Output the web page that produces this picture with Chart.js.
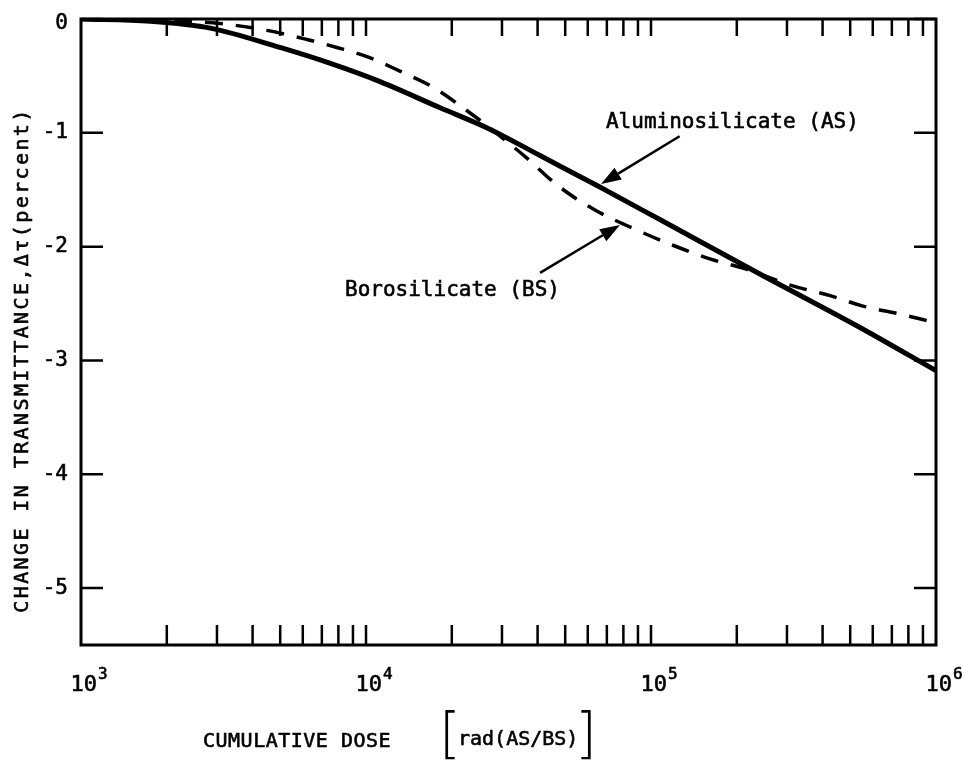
<!DOCTYPE html>
<html>
<head>
<meta charset="utf-8">
<script src="https://cdn.jsdelivr.net/npm/chart.js@4.4.1/dist/chart.umd.min.js"></script>
<style>
  html, body { margin:0; padding:0; background:#fff; }
  #wrap { width:962px; height:762px; position:relative; }
</style>
</head>
<body>
<div id="wrap"><canvas id="c" width="962" height="762"></canvas></div>
<script>
// ---- data ----
const asDose  = [1000, 1750, 2840, 4990, 7500, 11200, 18200, 27300, 40800, 65400, 107000, 241000, 541000, 1000000];
const asDelta = [0, -0.02, -0.08, -0.25, -0.39, -0.55, -0.78, -0.97, -1.20, -1.47, -1.76, -2.24, -2.71, -3.09];

const bsDose  = [1000, 1750, 3070, 4490, 6200, 7900, 10300, 13200, 17200, 21900, 27300, 36600, 46900, 62700, 86600, 120000, 162000, 217000, 310000, 425000, 550000, 740000, 1000000];
const bsDelta = [0, -0.01, -0.04, -0.10, -0.18, -0.25, -0.34, -0.46, -0.60, -0.78, -0.96, -1.22, -1.46, -1.67, -1.84, -1.99, -2.11, -2.20, -2.34, -2.43, -2.52, -2.59, -2.67];

const xDecades = [1000, 10000, 100000, 1000000];
const xTickBase = ['10', '10', '10', '10'];
const xTickExp  = ['3', '4', '5', '6'];
const xMinorMultipliers = [2, 3, 4, 5, 6, 7, 8, 9, 10];
const yTickValues = [0, -1, -2, -3, -4, -5];
const yTickLabels = ['0', '-1', '-2', '-3', '-4', '-5'];

const annotationTexts   = ['Aluminosilicate (AS)', 'Borosilicate (BS)'];
const annotationAnchors = [[69500, -0.956], [8440, -2.43]];
const arrowTails        = [[126000, -1.03], [40800, -2.23]];
const arrowHeads        = [[66800, -1.45], [77800, -1.81]];

const yTitle = 'CHANGE IN TRANSMITTANCE,\u0394\u03C4(percent)';
const xTitle = 'CUMULATIVE DOSE';
const xUnit  = 'rad(AS/BS)';

// ---- build points ----
const asPoints = asDose.map((d, i) => ({ x: d, y: asDelta[i] }));
const bsPoints = bsDose.map((d, i) => ({ x: d, y: bsDelta[i] }));

const MONO = '"DejaVu Sans Mono", "Liberation Mono", monospace';

function boldText(ctx, t, x, y) {
  ctx.fillText(t, x, y);
  ctx.lineWidth = 0.6;
  ctx.strokeText(t, x, y);
}

const decorPlugin = {
  id: 'decor',
  afterDatasetsDraw(chart) {
    const { ctx, chartArea: a, scales: { x, y } } = chart;
    ctx.save();
    ctx.strokeStyle = '#000';
    ctx.fillStyle = '#000';
    // frame
    ctx.lineWidth = 3;
    ctx.strokeRect(a.left, a.top, a.right - a.left, a.bottom - a.top);
    // x ticks, bottom & top, inward
    ctx.lineWidth = 2.5;
    ctx.beginPath();
    xDecades.slice(0, -1).forEach(d => {
      xMinorMultipliers.forEach(m => {
        const px = x.getPixelForValue(d * m);
        if (px >= a.right - 1) return;
        ctx.moveTo(px, a.bottom); ctx.lineTo(px, a.bottom - 20);
        ctx.moveTo(px, a.top); ctx.lineTo(px, a.top + 17);
      });
    });
    // y ticks, left & right, inward
    yTickValues.forEach(v => {
      const py = y.getPixelForValue(v);
      ctx.moveTo(a.left, py); ctx.lineTo(a.left + 22, py);
      ctx.moveTo(a.right, py); ctx.lineTo(a.right - 22, py);
    });
    ctx.stroke();

    // y tick labels
    ctx.font = '21px ' + MONO;
    ctx.textAlign = 'right';
    ctx.textBaseline = 'middle';
    yTickValues.forEach((v, i) => {
      const py = y.getPixelForValue(v);
      boldText(ctx, yTickLabels[i], a.left - 13, py + (i === 0 ? 5 : 0));
    });
    // x tick labels with superscripts
    ctx.textBaseline = 'alphabetic';
    xDecades.forEach((v, i) => {
      const px = x.getPixelForValue(v);
      ctx.font = '22px ' + MONO;
      ctx.textAlign = 'right';
      boldText(ctx, xTickBase[i], px + 16, a.bottom + 46);
      ctx.font = '16px ' + MONO;
      ctx.textAlign = 'left';
      boldText(ctx, xTickExp[i], px + 17, a.bottom + 34);
    });

    // annotations
    ctx.font = '21px ' + MONO;
    ctx.textAlign = 'left';
    annotationTexts.forEach((t, i) => {
      const tx = x.getPixelForValue(annotationAnchors[i][0]);
      const ty = y.getPixelForValue(annotationAnchors[i][1]);
      boldText(ctx, t, tx, ty);
      const x0 = x.getPixelForValue(arrowTails[i][0]);
      const y0 = y.getPixelForValue(arrowTails[i][1]);
      const x1 = x.getPixelForValue(arrowHeads[i][0]);
      const y1 = y.getPixelForValue(arrowHeads[i][1]);
      const ang = Math.atan2(y1 - y0, x1 - x0);
      const hl = 20, hw = 7;
      const bx = x1 - hl * Math.cos(ang), by = y1 - hl * Math.sin(ang);
      ctx.lineWidth = 2.5;
      ctx.beginPath(); ctx.moveTo(x0, y0); ctx.lineTo(bx, by); ctx.stroke();
      ctx.beginPath();
      ctx.moveTo(x1, y1);
      ctx.lineTo(bx + hw * Math.sin(ang), by - hw * Math.cos(ang));
      ctx.lineTo(bx - hw * Math.sin(ang), by + hw * Math.cos(ang));
      ctx.closePath(); ctx.fill();
    });

    // y title (rotated)
    ctx.save();
    ctx.translate(28, 360);
    ctx.rotate(-Math.PI / 2);
    ctx.font = '20px ' + MONO;
    ctx.letterSpacing = '2.4px';
    ctx.textAlign = 'center';
    boldText(ctx, yTitle, 0, 0);
    ctx.restore();

    // x title
    ctx.font = '20px ' + MONO;
    ctx.letterSpacing = '0.5px';
    ctx.textAlign = 'left';
    boldText(ctx, xTitle, a.left + 122, a.bottom + 102);
    ctx.letterSpacing = '0px';
    boldText(ctx, xUnit, a.left + 377, a.bottom + 100);
    ctx.font = '300 56px "DejaVu Sans"';
    ctx.fillText('[', a.left + 358, a.bottom + 107);
    ctx.fillText(']', a.left + 494, a.bottom + 107);
    ctx.restore();
  }
};

new Chart(document.getElementById('c'), {
  type: 'line',
  data: {
    datasets: [
      { label: 'Aluminosilicate (AS)', data: asPoints, borderColor: '#000', borderWidth: 5,
        pointRadius: 0, cubicInterpolationMode: 'monotone', fill: false },
      { label: 'Borosilicate (BS)', data: bsPoints, borderColor: '#000', borderWidth: 3.5,
        borderDash: [18, 13], pointRadius: 0, cubicInterpolationMode: 'monotone', fill: false }
    ]
  },
  options: {
    responsive: false,
    animation: false,
    devicePixelRatio: 1,
    layout: { padding: { top: 19, right: 26, left: 0, bottom: 0 } },
    plugins: { legend: { display: false }, tooltip: { enabled: false } },
    scales: {
      x: {
        type: 'logarithmic', min: 1000, max: 1000000,
        grid: { display: false, drawTicks: false },
        border: { display: false },
        afterFit: s => { s.height = 117; },
        afterBuildTicks: s => { s.ticks = xDecades.map(v => ({ value: v })); },
        ticks: { display: false }
      },
      y: {
        type: 'linear', min: -5.5, max: 0,
        grid: { display: false, drawTicks: false },
        border: { display: false },
        afterFit: s => { s.width = 81; },
        afterBuildTicks: s => { s.ticks = yTickValues.map(v => ({ value: v })); },
        ticks: { display: false }
      }
    }
  },
  plugins: [decorPlugin]
});
</script>
</body>
</html>
